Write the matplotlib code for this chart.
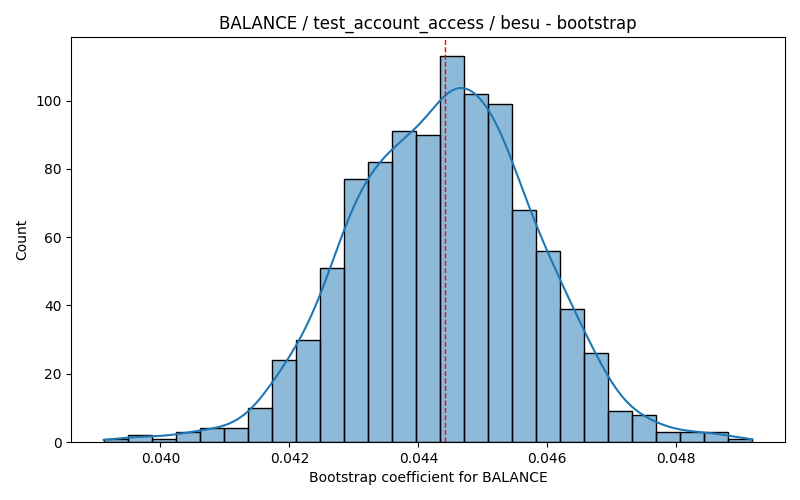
import numpy as np
import matplotlib
matplotlib.use("Agg")
import matplotlib.pyplot as plt

# bootstrap histogram (27 equal bins, 1000 resamples)
bin_lo = 0.03912
bin_hi = 0.04918
counts = [1, 2, 1, 3, 4, 4, 10, 24, 30, 51, 77, 82, 91, 90, 113,
          102, 99, 68, 56, 39, 26, 9, 8, 3, 3, 3, 1]
point_estimate = 0.044406

TITLE = "BALANCE / test_account_access / besu - bootstrap"
XLABEL = "Bootstrap coefficient for BALANCE"

edges = np.linspace(bin_lo, bin_hi, len(counts) + 1)
centers = 0.5 * (edges[:-1] + edges[1:])
counts = np.array(counts, dtype=float)
width = edges[1] - edges[0]

fig, ax = plt.subplots(figsize=(8, 5), dpi=100)
ax.bar(edges[:-1], counts, width=width, align="edge",
       facecolor=(0.122, 0.467, 0.706, 0.5), edgecolor="black", linewidth=1)

# gaussian kde on the binned sample, scott bandwidth, cut=0 like histplot
n = counts.sum()
mean = np.sum(centers * counts) / n
std = np.sqrt(np.sum(counts * (centers - mean) ** 2) / (n - 1))
bw = std * n ** (-1.0 / 5)
grid = np.linspace(bin_lo, bin_hi, 200)
dens = np.zeros_like(grid)
for c, k in zip(centers, counts):
    dens += k * np.exp(-0.5 * ((grid - c) / bw) ** 2)
dens /= n * bw * np.sqrt(2 * np.pi)
ax.plot(grid, dens * n * width, color="C0", linewidth=1.5)

ax.axvline(point_estimate, color="red", linestyle="--", linewidth=1, zorder=3)
ax.set_title(TITLE)
ax.set_xlabel(XLABEL)
ax.set_ylabel("Count")
fig.subplots_adjust(left=0.089, right=0.981, top=0.926, bottom=0.116)
fig.savefig("out.png")
